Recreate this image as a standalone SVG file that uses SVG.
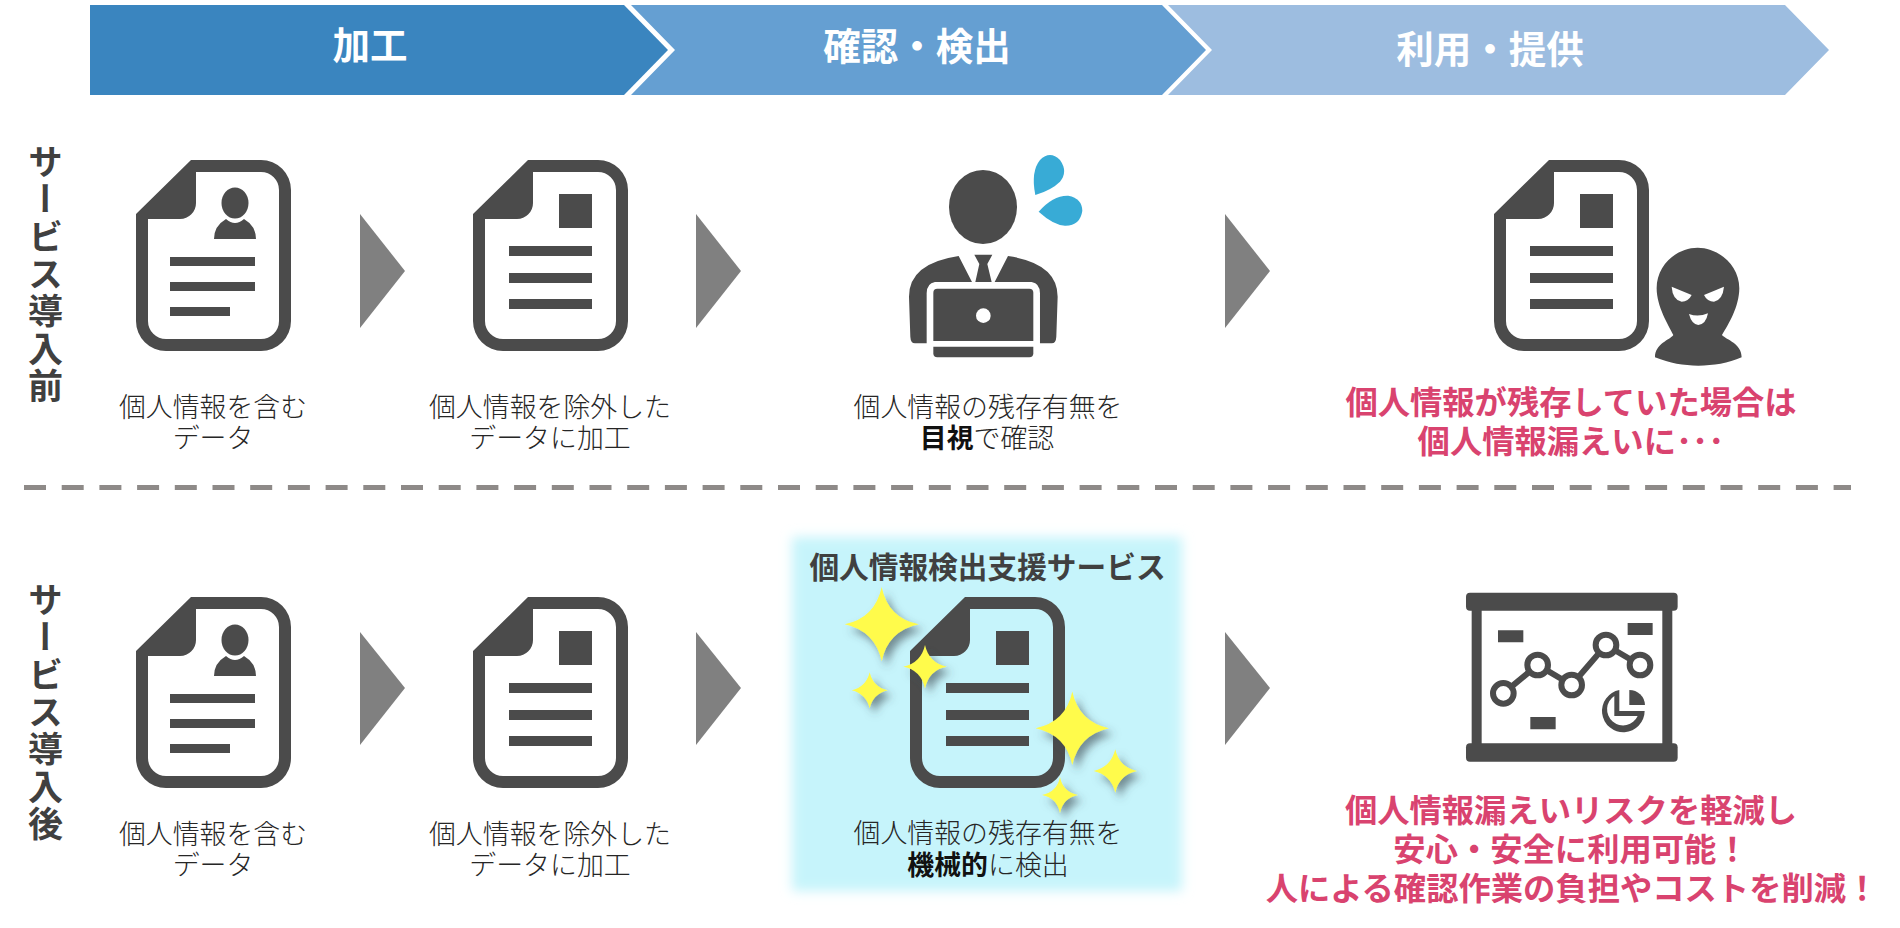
<svg xmlns="http://www.w3.org/2000/svg" xmlns:xlink="http://www.w3.org/1999/xlink" width="1900" height="928" viewBox="0 0 1900 928">
<style>
text{font-family:"Noto Sans CJK JP","Noto Sans",sans-serif}
.ban{font-size:37.5px;font-weight:700;fill:#fff;text-anchor:middle}
.cap{font-size:26.9px;font-weight:300;fill:#262626;text-anchor:middle}
.cap .b{font-weight:700;fill:#111}
.red{font-size:32.3px;font-weight:700;fill:#d9436f;text-anchor:middle}
.side{font-size:35px;font-weight:700;fill:#404040;writing-mode:vertical-rl;letter-spacing:2.4px}
.ttl{font-size:29.7px;font-weight:700;fill:#404040;text-anchor:middle}
.ic{fill:#4b4b4b}
.w{fill:#fff}
</style>
<defs>
<filter id="soft" x="-10%" y="-10%" width="120%" height="120%"><feGaussianBlur stdDeviation="6"/></filter>
<filter id="sh" x="-20%" y="-20%" width="140%" height="140%"><feDropShadow dx="5" dy="6" stdDeviation="4.5" flood-color="#3a4a50" flood-opacity=".6"/></filter>
<path id="page" class="ic" fill-rule="evenodd" d="M55 0H125A30 30 0 0 1 155 30V161A30 30 0 0 1 125 191H30A30 30 0 0 1 0 161V54ZM60 12V43A16 16 0 0 1 44 59H12V161A18 18 0 0 0 30 179H125A18 18 0 0 0 143 161V30A18 18 0 0 0 125 12Z"/>
<g id="docA"><use xlink:href="#page" href="#page"/><path class="ic" d="M86 34h33v34h-33zM36 86h83v10h-83zM36 113h83v10h-83zM36 139h83v10h-83z"/></g>
<g id="docP"><use xlink:href="#page" href="#page"/><ellipse class="ic" cx="99" cy="43" rx="13.5" ry="15.5"/><path class="ic" d="M90 59Q99 67 108 59Q120 66 120 79H78Q78 66 90 59Z"/><path class="ic" d="M34 97h85v9h-85zM34 122h85v9h-85zM34 147h60v9h-60z"/></g>
</defs>
<rect width="1900" height="928" fill="#fff"/>

<g id="banner-1"><polygon points="90,5 624,5 668,50 624,95 90,95" fill="#3a85bf"/><text class="ban" x="370" y="59">加工</text></g>
<g id="banner-2"><polygon points="631,5 1162,5 1206,50 1162,95 631,95 675,50" fill="#659fd2"/><text class="ban" x="917" y="60">確認・検出</text></g>
<g id="banner-3"><polygon points="1168,5 1785,5 1829,50 1785,95 1168,95 1212,50" fill="#9dbde0"/><text class="ban" x="1490" y="63">利用・提供</text></g>

<g id="label-before"><text class="side" x="45.5" y="144">サービス導入前</text></g>
<g id="label-after"><text class="side" x="45.5" y="582">サービス導入後</text></g>

<g id="before-personal-data"><use xlink:href="#docP" href="#docP" x="136" y="160"/><text class="cap" x="213" y="417">個人情報を含む</text><text class="cap" x="213" y="448">データ</text></g>
<g id="before-excluded-data"><use xlink:href="#docA" href="#docA" x="473" y="160"/><text class="cap" x="550" y="417">個人情報を除外した</text><text class="cap" x="550" y="448">データに加工</text></g>
<g id="before-visual-check">
<ellipse class="ic" cx="983" cy="207" rx="34" ry="37"/>
<g transform="translate(880 140) scale(.3333)">
<path class="ic" d="M236 348L276 426H165Q140 430 140 460V610H105Q92 610 91 590L87 470Q87 370 236 348Z"/>
<path class="ic" d="M384 348L344 426H455Q480 430 480 460V610H515Q528 610 529 590L533 470Q533 370 384 348Z"/>
<path class="ic" d="M283 344H337L322 372L335 426H286L298 372Z"/>
<path class="ic" d="M172 446H448Q460 446 460 458V603H160V458Q160 446 172 446Z"/>
<path class="ic" d="M160 620H460V640Q460 652 448 652H172Q160 652 160 640Z"/>
<circle class="w" cx="310" cy="527" r="22"/>
<path fill="#38abd6" d="M466 165Q452 95 480 60Q510 30 540 60Q565 95 540 125Q515 150 466 165Z"/>
<path fill="#38abd6" d="M476 215Q520 165 565 167Q607 175 607 213Q600 258 555 257Q520 255 476 215Z"/>
</g>
<text class="cap" x="988" y="417">個人情報の残存有無を</text><text class="cap" x="987" y="448"><tspan class="b">目視</tspan>で確認</text></g>
<g id="before-leak"><use xlink:href="#docA" href="#docA" x="1494" y="160"/>
<g transform="translate(1480 140) scale(.3333)">
<path class="ic" d="M653 323C590 323 530 375 530 445C530 500 565 555 580 585C570 600 525 610 525 652C570 670 610 677 655 677C700 677 745 670 785 652C785 610 740 600 726 585C745 555 778 500 778 445C778 375 715 323 653 323Z"/>
<path class="w" d="M575 440L635 465Q625 485 605 485Q578 480 575 440Z"/>
<path class="w" d="M732 440L672 465Q682 485 702 485Q728 480 732 440Z"/>
<path class="w" d="M627 522Q655 532 684 520Q678 553 655 555Q635 553 627 522Z"/>
</g>
<text class="red" x="1571" y="414">個人情報が残存していた場合は</text><text class="red" x="1571" y="453">個人情報漏えいに･･･</text></g>

<g id="divider"><line x1="24" y1="487.5" x2="1851" y2="487.5" stroke="#8e8a88" stroke-width="5" stroke-dasharray="22 15.7"/></g>

<g id="after-personal-data"><use xlink:href="#docP" href="#docP" x="136" y="597"/><text class="cap" x="213" y="843.5">個人情報を含む</text><text class="cap" x="213" y="874.5">データ</text></g>
<g id="after-excluded-data"><use xlink:href="#docA" href="#docA" x="473" y="597"/><text class="cap" x="550" y="843.5">個人情報を除外した</text><text class="cap" x="550" y="874.5">データに加工</text></g>
<g id="after-detection-service">
<rect x="792" y="537" width="390" height="354" fill="#c6f4fb" filter="url(#soft)"/>
<text class="ttl" x="987.5" y="578">個人情報検出支援サービス</text>
<use xlink:href="#docA" href="#docA" x="910" y="597"/>
<g filter="url(#sh)" fill="#fffb4b">
<path d="M881.7 587Q888 618 918.7 624.3Q888 631 881.7 661.3Q875 631 844.7 624.3Q875 618 881.7 587Z"/>
<path d="M925 645Q929 663 946.7 666.7Q929 670 925 688.4Q921 670 903.3 666.7Q921 663 925 645Z"/>
<path d="M869.7 672.3Q873 687 887.7 690.3Q873 694 869.7 708.3Q866 694 851.7 690.3Q866 687 869.7 672.3Z"/>
<path d="M1072.3 691.6Q1079 722 1109 728.3Q1079 735 1072.3 765Q1066 735 1035.6 728.3Q1066 722 1072.3 691.6Z"/>
<path d="M1115.3 749.3Q1119 767 1137 771Q1119 775 1115.3 792.7Q1111 775 1093.6 771Q1111 767 1115.3 749.3Z"/>
<path d="M1060 777Q1063 792 1078 795Q1063 798 1060 813Q1057 798 1042 795Q1057 792 1060 777Z"/>
</g>
<text class="cap" x="988" y="843">個人情報の残存有無を</text><text class="cap" x="988" y="875"><tspan class="b">機械的</tspan>に検出</text></g>
<g id="after-benefit">
<g transform="translate(1460 580) scale(.3333)">
<rect class="ic" x="18" y="38" width="635" height="54" rx="12"/>
<rect class="ic" x="18" y="490" width="635" height="55" rx="12"/>
<path class="ic" d="M35 90h30v402h-30zM607 90h30v402h-30z"/>
<path class="ic" d="M114 151h76v36h-76zM503 129h75v36h-75zM211 411h76v37h-76z"/>
<polyline points="130,340 233,255 335,315 438,195 540,255" fill="none" stroke="#4b4b4b" stroke-width="18"/>
<g fill="#fff" stroke="#4b4b4b" stroke-width="18"><circle cx="130" cy="340" r="31"/><circle cx="233" cy="255" r="31"/><circle cx="335" cy="315" r="31"/><circle cx="438" cy="195" r="31"/><circle cx="540" cy="255" r="31"/></g>
<path class="ic" d="M478 330A64 64 0 1 0 554 393H478Z"/>
<path class="w" d="M463 348A48 48 0 1 0 533 408H463Z"/>
<path class="ic" d="M508 330A47 47 0 0 1 555 375H508Z"/>
</g>
<text class="red" x="1571" y="822">個人情報漏えいリスクを軽減し</text><text class="red" x="1571" y="860.5">安心・安全に利用可能！</text><text class="red" x="1572" y="900">人による確認作業の負担やコストを削減！</text></g>

<g id="connectors" fill="#808080">
<polygon points="360,214 405,271 360,328"/><polygon points="696,214 741,271 696,328"/><polygon points="1225,214 1270,271 1225,328"/>
<polygon points="360,632 405,688 360,745"/><polygon points="696,632 741,688 696,745"/><polygon points="1225,632 1270,688 1225,745"/>
</g>
</svg>
